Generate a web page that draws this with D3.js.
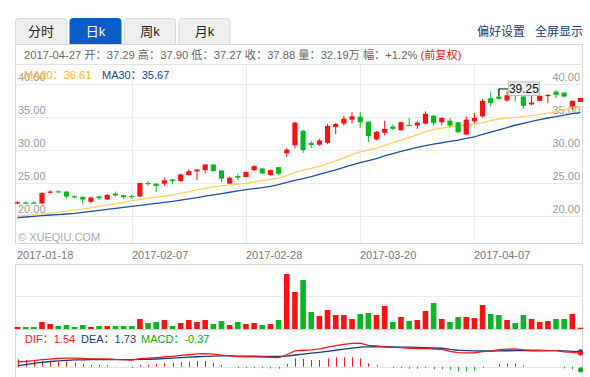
<!DOCTYPE html>
<html>
<head>
<meta charset="utf-8">
<script src="https://cdnjs.cloudflare.com/ajax/libs/d3/7.8.5/d3.min.js"></script>
<style>
  body { margin: 0; background: #fff; }
  svg { display: block; font-family: Arial, "Liberation Sans", "Noto Sans CJK SC", sans-serif; }
</style>
</head>
<body>
<svg width="590" height="377"></svg>
<script>
// daily k-line, 70 trading days ending 2017-04-27
const opens  = [21.9,22.05,22.05,21.9,23.55,23.75,23.7,23.0,22.9,22.15,22.95,22.5,23.4,23.15,23.05,22.95,25.0,24.9,24.9,25.55,
                25.3,26.2,26.75,26.95,27.8,26.9,24.9,26.05,25.9,26.95,27.2,26.2,27.4,29.5,30.7,32.9,31.05,30.8,31.1,33.5,
                34.0,34.6,35.05,34.3,31.6,32.6,33.55,33.0,33.8,33.7,34.0,35.2,34.2,34.45,34.2,32.35,34.35,35.1,37.85,38.1,
                37.5,38.5,38.1,36.9,37.45,38.25,38.85,38.7,36.6,37.29];
const highs  = [22.2,22.2,22.2,23.6,23.9,23.9,23.75,23.1,22.95,22.95,23.1,23.3,23.7,23.2,23.2,25.05,25.3,24.95,25.8,25.6,
                26.4,27.1,27.1,27.85,27.85,26.95,25.95,26.45,26.75,27.7,27.3,27.05,27.45,30.3,34.3,33.1,31.4,31.7,33.95,34.1,
                35.2,35.75,35.75,34.35,32.9,34.45,33.85,34.3,34.85,34.45,35.85,35.3,35.0,34.85,34.3,35.1,35.6,37.75,38.85,39.25,
                38.85,39.0,38.2,38.2,38.4,38.5,39.1,38.75,37.5,37.90];
const lows   = [21.8,21.8,21.8,21.85,23.4,23.45,22.65,22.65,21.75,21.95,22.45,22.4,22.95,22.6,22.6,22.9,24.6,23.65,24.55,24.9,
                25.2,26.1,25.45,26.45,26.75,25.15,24.85,25.45,25.85,26.8,26.3,26.1,26.2,28.95,30.2,29.55,30.3,30.6,30.9,32.4,
                33.7,34.0,33.35,31.2,31.45,32.2,33.0,32.9,33.65,33.2,33.9,33.7,33.75,33.4,32.6,32.25,34.1,34.95,36.6,37.55,
                37.3,37.35,36.25,36.75,37.4,37.1,37.85,37.95,36.1,37.27];
const closes = [22.1,21.95,21.95,23.5,23.7,23.6,22.95,22.8,22.5,22.8,22.7,23.2,23.1,22.85,22.85,25.0,24.9,24.55,25.4,25.3,
                26.3,26.8,27.05,27.8,26.8,25.65,25.8,25.8,26.65,27.55,26.45,26.95,26.4,30.05,34.15,30.0,30.75,31.45,33.65,33.95,
                34.75,35.1,34.2,32.1,32.75,33.2,33.2,34.2,33.7,34.15,35.5,34.1,34.85,33.7,32.7,34.6,34.85,37.45,37.1,37.75,
                38.3,38.35,36.7,37.2,38.2,38.35,38.35,38.1,37.45,37.88];
// volume, 万
const volumes = [50,50,50,175,125,75,100,50,100,50,75,75,75,75,75,250,150,175,225,75,
                 150,225,175,225,125,200,100,175,125,150,100,125,225,1375,925,1225,425,325,475,350,
                 350,250,375,400,350,575,175,300,200,225,450,650,250,175,300,300,275,600,375,350,
                 225,150,350,250,175,200,250,250,375,32.19];
const ma20 = [20.0,20.1,20.2,20.35,20.45,20.6,20.75,20.9,21.05,21.25,21.45,21.65,21.85,22.05,22.3,22.5,22.7,22.85,23.0,23.2,
              23.45,23.7,23.95,24.2,24.4,24.55,24.7,24.85,24.95,25.15,25.35,25.55,25.75,26.1,26.6,26.95,27.2,27.55,27.95,28.35,
              28.8,29.3,29.7,30.0,30.3,30.7,31.1,31.5,31.9,32.3,32.8,33.1,33.3,33.5,33.6,33.75,33.9,34.15,34.45,34.7,
              34.85,34.95,35.05,35.2,35.4,35.6,35.85,36.1,36.35,36.61];
const ma30 = [19.75,19.85,19.95,20.05,20.15,20.22,20.3,20.4,20.55,20.7,20.85,21.0,21.15,21.3,21.45,21.6,21.75,21.9,22.05,22.2,
              22.4,22.6,22.8,23.0,23.2,23.4,23.6,23.8,24.0,24.15,24.3,24.5,24.75,25.1,25.4,25.65,25.95,26.3,26.65,27.0,
              27.35,27.75,28.1,28.4,28.7,29.1,29.45,29.8,30.1,30.4,30.65,30.9,31.1,31.3,31.5,31.75,32.0,32.35,32.7,33.05,
              33.4,33.75,34.05,34.35,34.6,34.85,35.05,35.3,35.5,35.67];
const dif = [0.55,0.62,0.7,0.82,0.88,0.95,0.98,0.99,0.96,0.91,0.91,0.9,0.85,0.83,0.76,0.94,0.98,1.04,1.12,1.2,
             1.3,1.38,1.48,1.52,1.46,1.34,1.24,1.16,1.15,1.14,1.12,1.09,1.06,1.38,1.83,1.9,1.95,2.05,2.26,2.44,
             2.57,2.69,2.73,2.47,2.4,2.3,2.22,2.2,2.13,2.1,2.11,2.03,2.0,1.78,1.63,1.6,1.6,1.73,1.81,1.97,
             2.03,2.05,1.95,1.87,1.87,1.86,1.85,1.72,1.65,1.54];
const dea = [0.1,0.25,0.38,0.5,0.6,0.68,0.74,0.78,0.8,0.81,0.82,0.83,0.83,0.83,0.83,0.84,0.86,0.89,0.93,0.98,
             1.04,1.1,1.15,1.2,1.23,1.24,1.24,1.23,1.22,1.21,1.2,1.19,1.18,1.22,1.35,1.46,1.56,1.66,1.78,1.9,
             2.03,2.15,2.25,2.28,2.3,2.3,2.29,2.27,2.25,2.22,2.19,2.16,2.13,2.0,1.9,1.86,1.83,1.81,1.81,1.82,
             1.84,1.86,1.87,1.87,1.87,1.86,1.85,1.82,1.78,1.73];
const macd = [0.84,0.77,0.69,0.66,0.58,0.58,0.58,0.46,0.31,0.2,0.2,0.15,0.03,0,-0.15,0.2,0.23,0.31,0.38,0.46,
              0.54,0.58,0.66,0.66,0.46,0.2,0,-0.15,-0.15,-0.15,-0.15,-0.2,-0.23,0.31,0.96,0.89,0.77,0.77,0.96,1.07,
              1.07,1.07,0.96,0.38,0.2,0,-0.15,-0.15,-0.23,-0.23,-0.15,-0.27,-0.27,-0.35,-0.54,-0.54,-0.46,-0.15,0,0.31,
              0.38,0.38,0.15,0,0,0,0,-0.2,-0.27,-0.37];

const dateTickIdx = [0, 14, 28, 42, 56];
const dateTickLabels = ["2017-01-18", "2017-02-07", "2017-02-28", "2017-03-20", "2017-04-07"];
const priceTicks = [20, 25, 30, 35, 40];
const tabs = ["分时", "日k", "周k", "月k"];

const UP = "#f41414", DOWN = "#0db523";
const svg = d3.select("svg");

// tabs
const tabW = 51, tabGap = 3.5;
tabs.forEach((t, i) => {
  const x0 = 15.5 + i * (tabW + tabGap), active = i === 1;
  svg.append("path")
    .attr("d", `M${x0},44.5 V21.5 q0,-3 3,-3 H${x0 + tabW - 3} q3,0 3,3 V44.5`)
    .attr("fill", active ? "#0a5dc8" : "#efefef")
    .attr("stroke", active ? "#0a5dc8" : "#d8d8d8");
  svg.append("text").attr("x", x0 + tabW / 2).attr("y", 36)
    .attr("text-anchor", "middle").attr("font-size", 13)
    .attr("fill", active ? "#fff" : "#222").text(t);
});
svg.append("text").attr("x", 477).attr("y", 35.5).attr("font-size", 12).attr("fill", "#1d3a72").text("偏好设置");
svg.append("text").attr("x", 535).attr("y", 35.5).attr("font-size", 12).attr("fill", "#1d3a72").text("全屏显示");

// scales
const x = d3.scalePoint().domain(d3.range(closes.length)).range([17.5, 580.5]);
const y = d3.scaleLinear().domain([20, 40]).range([216, 84]);
const yv = d3.scaleLinear().domain([0, 1625]).range([329, 264]);
const ym = d3.scaleLinear().domain([-1, 3]).range([375.4, 340.7]);

// frames
svg.append("rect").attr("x", 15.5).attr("y", 44.5).attr("width", 567).attr("height", 199)
  .attr("fill", "none").attr("stroke", "#d6d6d6");
svg.append("line").attr("x1", 15.5).attr("x2", 582.5).attr("y1", 64.5).attr("y2", 64.5).attr("stroke", "#e2e2e2");

const info = svg.append("text").attr("x", 24).attr("y", 59).attr("font-size", 11.2).attr("fill", "#666");
info.append("tspan").text("2017-04-27 开：37.29 高：37.90 低：37.27 收：37.88 量：32.19万 幅：+1.2% ");
info.append("tspan").attr("fill", "#e5171b").text("(前复权)");

// grid
svg.append("g").selectAll("line").data(priceTicks).join("line")
  .attr("x1", 16).attr("x2", 582).attr("y1", d => Math.round(y(d)) + 0.5).attr("y2", d => Math.round(y(d)) + 0.5)
  .attr("stroke", "#ebebeb");
svg.append("g").selectAll("line").data(dateTickIdx.slice(1)).join("line")
  .attr("x1", d => Math.round(x(d)) + 0.5).attr("x2", d => Math.round(x(d)) + 0.5)
  .attr("y1", 65).attr("y2", 243).attr("stroke", "#ebebeb");

const axisLabels = svg.append("g").attr("font-size", 11).attr("fill", "#999");
priceTicks.forEach(t => {
  axisLabels.append("text").attr("x", 18).attr("y", y(t) - 3).text(d3.format(".2f")(t));
  axisLabels.append("text").attr("x", 580).attr("y", y(t) - 3).attr("text-anchor", "end").text(d3.format(".2f")(t));
});
svg.append("text").attr("x", 18).attr("y", 241).attr("font-size", 11).attr("fill", "#aaa").text("© XUEQIU.COM");

// MA lines
const maLine = arr => d3.line().x((d, i) => x(i)).y(d => y(d))(arr);
svg.append("path").attr("d", maLine(ma20)).attr("fill", "none").attr("stroke", "#fcd062").attr("stroke-width", 1.3);
svg.append("path").attr("d", maLine(ma30)).attr("fill", "none").attr("stroke", "#1f4f9e").attr("stroke-width", 1.3);

// candles
const candles = svg.append("g").selectAll("g").data(closes).join("g")
  .attr("fill", (c, i) => c >= opens[i] ? UP : DOWN)
  .attr("stroke", (c, i) => c >= opens[i] ? UP : DOWN);
candles.append("line")
  .attr("x1", (c, i) => x(i)).attr("x2", (c, i) => x(i))
  .attr("y1", (c, i) => y(highs[i])).attr("y2", (c, i) => y(lows[i])).attr("stroke-width", 1);
candles.append("rect")
  .attr("x", (c, i) => x(i) - 2.6).attr("width", 5.2).attr("stroke", "none")
  .attr("y", (c, i) => y(Math.max(c, opens[i])))
  .attr("height", (c, i) => Math.max(1.2, Math.abs(y(c) - y(opens[i]))));

// legend
const leg = svg.append("text").attr("x", 24).attr("y", 79).attr("font-size", 11);
leg.append("tspan").attr("fill", "#f7b52c").text("MA20：36.61");
leg.append("tspan").attr("x", 102).attr("fill", "#1c3f8e").text("MA30：35.67");

// highest marker
const hi = d3.maxIndex(highs);
const hx = x(hi), hy = y(highs[hi]);
svg.append("path").attr("d", `M${hx},${hy + 7} V${hy} H${hx + 9.5}`).attr("fill", "none").attr("stroke", "#111");
svg.append("rect").attr("x", hx + 9.5).attr("y", hy - 7).attr("width", 31).attr("height", 13.5)
  .attr("fill", "#eee").attr("stroke", "#bbb");
svg.append("text").attr("x", hx + 25).attr("y", hy + 4).attr("text-anchor", "middle")
  .attr("font-size", 12).attr("fill", "#111").text(d3.format(".2f")(highs[hi]));

// date labels
svg.append("g").selectAll("text").data(dateTickIdx).join("text")
  .attr("x", (d, i) => i === 0 ? 17 : Math.round(x(d)))
  .attr("y", 259).attr("font-size", 11).attr("fill", "#777")
  .text((d, i) => dateTickLabels[i]);

// volume panel
svg.append("rect").attr("x", 15.5).attr("y", 264.5).attr("width", 567).attr("height", 65)
  .attr("fill", "none").attr("stroke", "#d6d6d6");
svg.append("line").attr("x1", 16).attr("x2", 582).attr("y1", 296.5).attr("y2", 296.5).attr("stroke", "#ebebeb");
svg.append("g").selectAll("rect").data(volumes).join("rect")
  .attr("x", (v, i) => x(i) - 2.8).attr("width", 5.6)
  .attr("y", v => yv(v)).attr("height", v => 329 - yv(v))
  .attr("fill", (v, i) => closes[i] >= opens[i] ? UP : DOWN);

// macd panel
svg.append("path").attr("d", "M15.5,329.5 V377 M582.5,329.5 V377").attr("stroke", "#d6d6d6");
svg.append("line").attr("x1", 16).attr("x2", 582).attr("y1", Math.round(ym(0)) + 0.5).attr("y2", Math.round(ym(0)) + 0.5)
  .attr("stroke", "#e4e4e4");
const mleg = svg.append("g").attr("font-size", 11);
mleg.append("text").attr("x", 25).attr("y", 342.5).attr("fill", "#f01818").text("DIF：1.54");
mleg.append("text").attr("x", 81).attr("y", 342.5).attr("fill", "#163c7a").text("DEA：1.73");
mleg.append("text").attr("x", 141).attr("y", 342.5).attr("fill", "#0aa51c").text("MACD：-0.37");

svg.append("g").selectAll("line").data(macd).join("line")
  .attr("x1", (m, i) => Math.round(x(i)) + 0.5).attr("x2", (m, i) => Math.round(x(i)) + 0.5)
  .attr("y1", ym(0)).attr("y2", m => ym(m))
  .attr("stroke", m => m >= 0 ? UP : DOWN).attr("stroke-width", 1);

const mLine = arr => d3.line().x((d, i) => x(i)).y(d => ym(d))(arr);
svg.append("path").attr("d", mLine(dea)).attr("fill", "none").attr("stroke", "#163c7a").attr("stroke-width", 1.3);
svg.append("path").attr("d", mLine(dif)).attr("fill", "none").attr("stroke", "#f01818").attr("stroke-width", 1.3);

const last = closes.length - 1;
[[dea[last], "#163c7a"], [dif[last], "#f01818"], [macd[last], "#0aa51c"]].forEach(([v, c]) => {
  svg.append("circle").attr("cx", x(last)).attr("cy", ym(v)).attr("r", 2.5).attr("fill", c);
});
</script>
</body>
</html>
